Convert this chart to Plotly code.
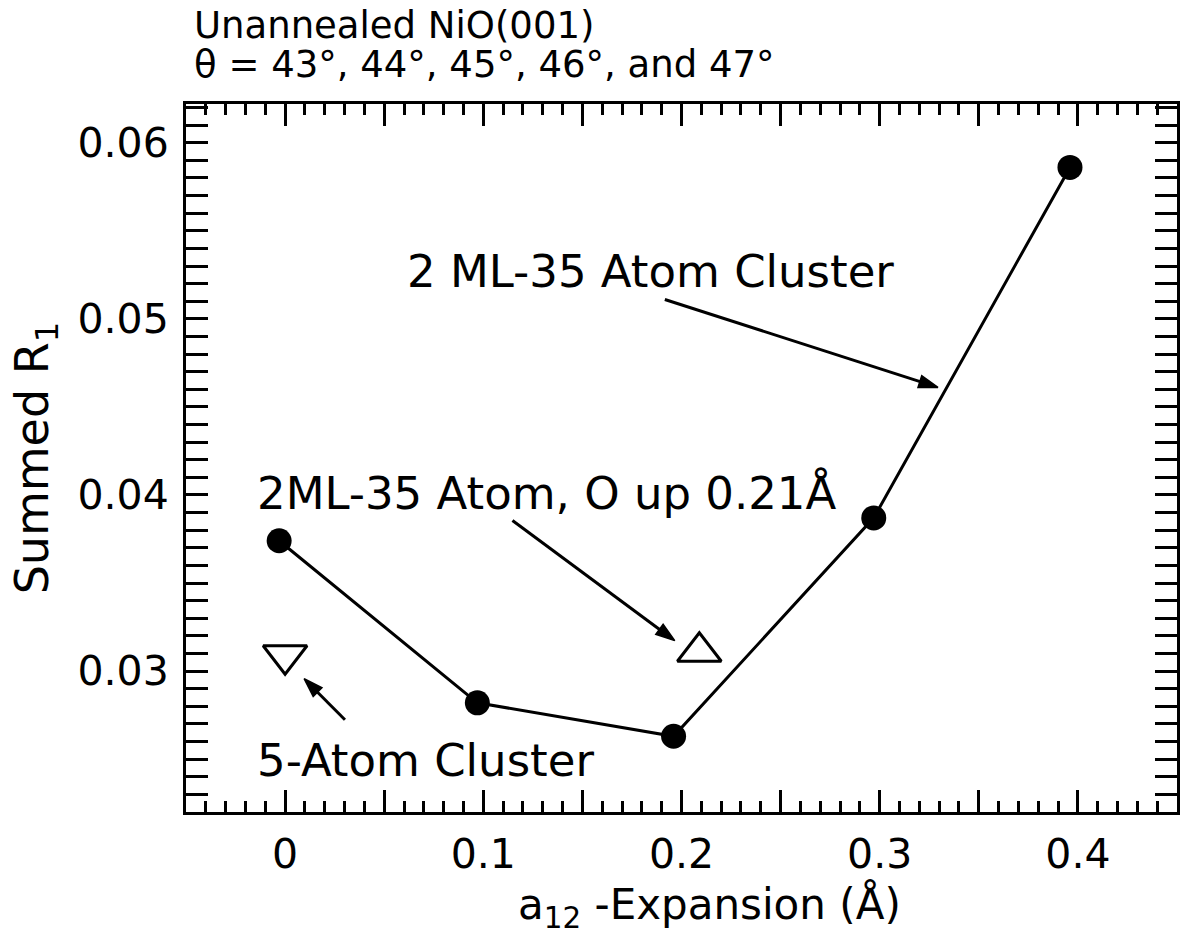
import plotly.graph_objects as go

# Summed R1 versus a12 expansion for the 2 ML, 35-atom cluster
a12 = [-0.003, 0.097, 0.196, 0.297, 0.396]
r1 = [0.0374, 0.0282, 0.0263, 0.0387, 0.0586]

# Single comparison calculations
five_atom_x = [0.0]
five_atom_y = [0.0309]
o_up_x = [0.209]
o_up_y = [0.0311]

x_labelled = [0.0, 0.1, 0.2, 0.3, 0.4]
x_labelled_text = ["0", "0.1", "0.2", "0.3", "0.4"]
x_half = [-0.05, 0.05, 0.15, 0.25, 0.35, 0.45]
y_major = [0.03, 0.04, 0.05, 0.06]
y_major_text = ["0.03", "0.04", "0.05", "0.06"]

# pointer arrows, tail -> head
arrow_cluster_x = [0.1916, 0.3294]
arrow_cluster_y = [0.0511, 0.04611]
arrow_oup_x = [0.1147, 0.1966]
arrow_oup_y = [0.03855, 0.03173]
arrow_five_x = [0.0302, 0.0096]
arrow_five_y = [0.02724, 0.02957]

X_RANGE = [-0.05, 0.45]
Y_RANGE = [0.022, 0.0622]

FONT = "DejaVu Sans"
INK = "black"

fig = go.Figure()
fig.add_trace(go.Scatter(
    x=a12, y=r1, mode="lines+markers",
    line=dict(color=INK, width=3),
    marker=dict(symbol="circle", size=25, color=INK),
    showlegend=False, hoverinfo="skip"))
fig.add_trace(go.Scatter(
    x=five_atom_x, y=five_atom_y, mode="markers",
    marker=dict(symbol="triangle-down-open", size=38, color=INK,
                line=dict(color=INK, width=3)),
    showlegend=False, hoverinfo="skip"))
fig.add_trace(go.Scatter(
    x=o_up_x, y=o_up_y, mode="markers",
    marker=dict(symbol="triangle-up-open", size=38, color=INK,
                line=dict(color=INK, width=3)),
    showlegend=False, hoverinfo="skip"))

for ax_, ay_ in [(arrow_cluster_x, arrow_cluster_y),
                 (arrow_oup_x, arrow_oup_y),
                 (arrow_five_x, arrow_five_y)]:
    fig.add_trace(go.Scatter(
        x=ax_, y=ay_, mode="lines+markers",
        line=dict(color=INK, width=3),
        marker=dict(symbol=["circle", "arrow"], size=[0, 20], color=INK,
                    angleref="previous", opacity=1,
                    line=dict(color=INK, width=1.5)),
        showlegend=False, hoverinfo="skip"))

# carrier for the unlabelled half-step ticks on the second x axis
fig.add_trace(go.Scatter(
    x=[X_RANGE[0]], y=[Y_RANGE[0]], xaxis="x2", mode="markers",
    marker=dict(size=1, opacity=0), showlegend=False, hoverinfo="skip"))

tick_font = dict(family=FONT, size=41, color=INK)

fig.update_layout(
    xaxis=dict(
        range=X_RANGE, tickmode="array", tickvals=x_labelled, ticktext=x_labelled_text,
        showline=True, linecolor=INK, linewidth=3, mirror="allticks",
        ticks="inside", tickcolor=INK, tickwidth=3, ticklen=22,
        minor=dict(dtick=0.01, tick0=0, ticks="inside", ticklen=11, tickwidth=2.5,
                   tickcolor=INK, showgrid=False),
        showgrid=False, zeroline=False, tickfont=tick_font, ticklabelstandoff=4),
    xaxis2=dict(
        range=X_RANGE, overlaying="x", anchor="y", side="bottom",
        tickmode="array", tickvals=x_half, showticklabels=False,
        showline=False, mirror="allticks",
        ticks="inside", tickcolor=INK, tickwidth=3, ticklen=22,
        showgrid=False, zeroline=False),
    yaxis=dict(
        range=Y_RANGE, tickmode="array", tickvals=y_major, ticktext=y_major_text,
        showline=True, linecolor=INK, linewidth=3, mirror="allticks",
        ticks="inside", tickcolor=INK, tickwidth=3, ticklen=22,
        minor=dict(dtick=0.001, tick0=0, ticks="inside", ticklen=11, tickwidth=2.5,
                   tickcolor=INK, showgrid=False),
        showgrid=False, zeroline=False, tickfont=tick_font, ticklabelstandoff=6),
)

ann_font = dict(family=FONT, size=45, color=INK)
head_font = dict(family=FONT, size=37, color=INK)
annotations = [
    # heading
    dict(text="Unannealed NiO(001)", x=0.006, y=(812 - 25) / 708, xref="paper",
         yref="paper", xanchor="left", yanchor="middle", showarrow=False,
         font=head_font),
    dict(text="θ = 43°, 44°, 45°, 46°, and 47°", x=0.006, y=(812 - 64) / 708,
         xref="paper", yref="paper", xanchor="left", yanchor="middle",
         showarrow=False, font=head_font),
    # axis titles
    dict(text="a<sub>12</sub> -Expansion (Å)", x=0.528, y=(812 - 907) / 708,
         xref="paper", yref="paper", xanchor="center", yanchor="middle",
         showarrow=False, font=dict(family=FONT, size=42, color=INK)),
    dict(text="Summed R<sub>1</sub>", x=-0.152, y=0.5, xref="paper", yref="paper",
         xanchor="center", yanchor="middle", textangle=-90, showarrow=False,
         font=dict(family=FONT, size=46, color=INK)),
    # labels
    dict(text="2 ML-35 Atom Cluster", x=0.0605, y=0.0527, xref="x", yref="y",
         xanchor="left", yanchor="middle", showarrow=False, font=ann_font),
    dict(text="2ML-35 Atom, O up 0.21Å", x=-0.0150, y=0.0401, xref="x", yref="y",
         xanchor="left", yanchor="middle", showarrow=False, font=ann_font),
    dict(text="5-Atom Cluster", x=-0.0150, y=0.0249, xref="x", yref="y",
         xanchor="left", yanchor="middle", showarrow=False, font=ann_font),
]

fig.update_layout(
    width=1187, height=951,
    margin=dict(l=186, r=7, t=104, b=139),
    paper_bgcolor="white", plot_bgcolor="white",
    annotations=annotations,
    font=dict(family=FONT, color=INK),
)

fig.write_html("out.html")
